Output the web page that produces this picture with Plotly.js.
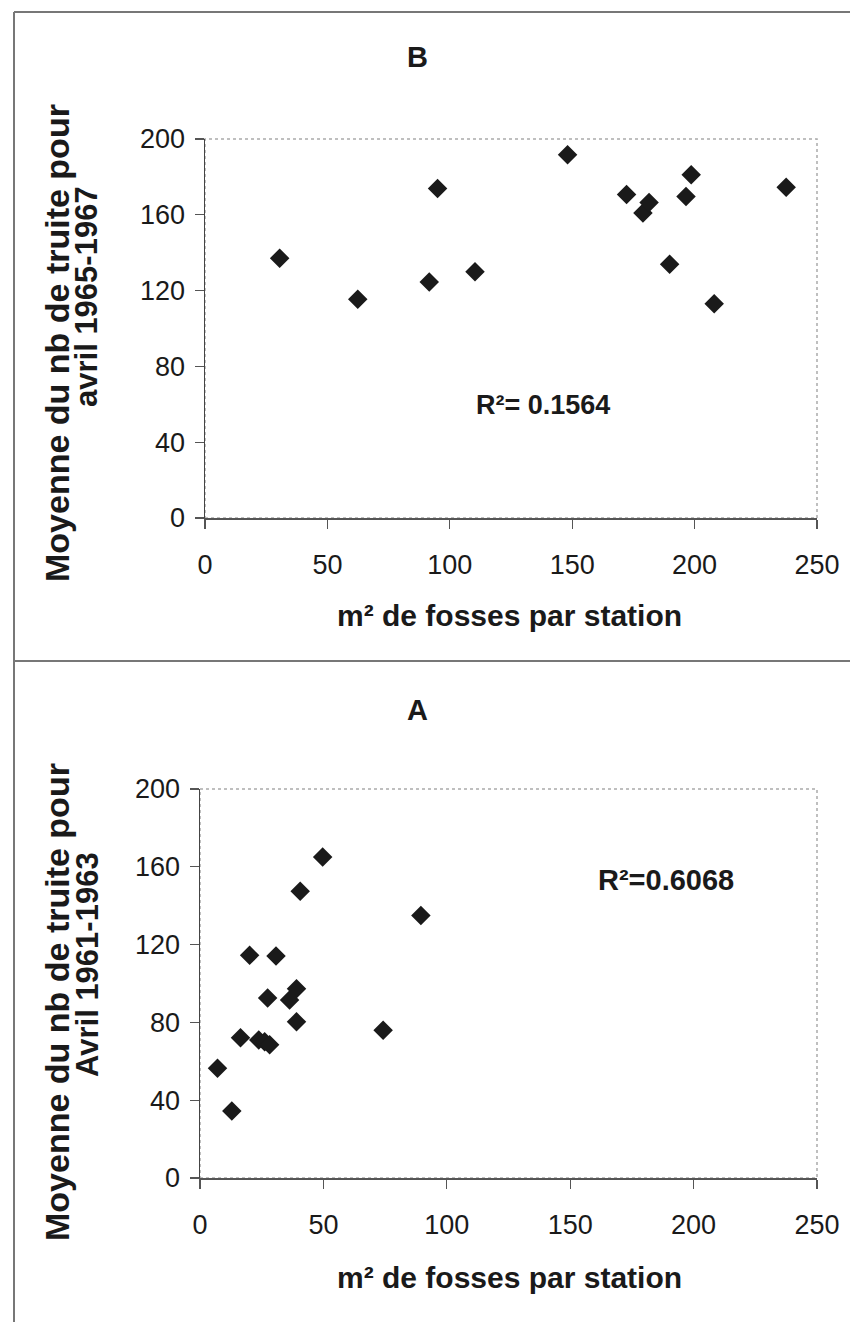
<!DOCTYPE html>
<html>
<head>
<meta charset="utf-8">
<script src="https://cdn.plot.ly/plotly-3.0.1.min.js"></script>
<style>html,body{margin:0;padding:0;background:#fff;}#chart{width:850px;height:1322px;}</style>
</head>
<body>
<div id="chart"></div>
<script>
// Panel B (1965-1967)
const B_x = [30.5, 62.4, 91.6, 95.0, 110.3, 148.1, 172.2, 178.9, 181.4, 189.8, 196.5, 198.6, 208.0, 237.4];
const B_y = [137.1, 115.4, 124.6, 173.9, 129.9, 191.7, 170.7, 160.9, 166.5, 133.9, 169.7, 181.1, 113.0, 174.6];
const B_r2 = "R²= 0.1564";
const B_ytitle = ["Moyenne du nb de truite pour", "avril 1965-1967"];

// Panel A (1961-1963)
const A_x = [7.1, 12.9, 16.4, 20.1, 23.8, 26.2, 28.2, 27.4, 30.8, 36.3, 39.1, 39.1, 40.6, 49.7, 74.2, 89.5];
const A_y = [56.4, 34.5, 72.1, 114.5, 70.9, 70.1, 68.5, 92.6, 114.2, 91.5, 97.3, 80.3, 147.4, 165.1, 75.9, 135.0];
const A_r2 = "R²=0.6068";
const A_ytitle = ["Moyenne du nb de truite pour", "Avril 1961-1963"];

const xTitle = "m² de fosses par station";
const xTicks = [0, 50, 100, 150, 200, 250];
const yTicks = [0, 40, 80, 120, 160, 200];

const W = 850, H = 1322;
const px = v => v / W;
const py = v => 1 - v / H;
const FONT = "Liberation Sans, Arial, sans-serif";
const INK = "#1a1a1a";

const marker = {symbol: "diamond", size: 15, color: INK};
const traces = [
  {x: B_x, y: B_y, type: "scatter", mode: "markers", marker: marker, xaxis: "x", yaxis: "y", showlegend: false, hoverinfo: "x+y"},
  {x: A_x, y: A_y, type: "scatter", mode: "markers", marker: marker, xaxis: "x2", yaxis: "y2", showlegend: false, hoverinfo: "x+y"}
];

function xax(domain, anchor) {
  return {domain: domain, anchor: anchor, range: [0, 250], tickvals: xTicks, ticktext: xTicks.map(String),
    showgrid: false, zeroline: false, showline: true, linecolor: "#555", linewidth: 1.5,
    ticks: "outside", ticklen: 9, tickcolor: "#555", tickwidth: 1.2, ticklabelstandoff: 13,
    tickfont: {family: FONT, size: 27, color: INK}, fixedrange: true};
}
function yax(domain, anchor) {
  return {domain: domain, anchor: anchor, range: [0, 200], tickvals: yTicks, ticktext: yTicks.map(String),
    showgrid: false, zeroline: false, showline: true, linecolor: "#444", linewidth: 1.5,
    ticks: "outside", ticklen: 9, tickcolor: "#555", tickwidth: 1.2, ticklabelstandoff: 4,
    tickfont: {family: FONT, size: 27, color: INK}, fixedrange: true};
}

const bold = (s) => ({family: FONT, size: s, color: INK, weight: "bold"});

const annotations = [
  // panel titles
  {text: "<b>B</b>", xref: "paper", yref: "paper", x: px(417), y: py(57), showarrow: false, font: bold(29), xanchor: "center", yanchor: "middle"},
  {text: "<b>A</b>", xref: "paper", yref: "paper", x: px(417), y: py(710), showarrow: false, font: bold(29), xanchor: "center", yanchor: "middle"},
  // x titles
  {text: "<b>" + xTitle + "</b>", xref: "paper", yref: "paper", x: px(509), y: py(615), showarrow: false, font: bold(30), xanchor: "center", yanchor: "middle"},
  {text: "<b>" + xTitle + "</b>", xref: "paper", yref: "paper", x: px(509), y: py(1277), showarrow: false, font: bold(30), xanchor: "center", yanchor: "middle"},
  // y titles B
  {text: "<b>" + B_ytitle[0] + "</b>", xref: "paper", yref: "paper", x: px(57), y: py(343), textangle: -90, showarrow: false, font: bold(34), xanchor: "center", yanchor: "middle"},
  {text: "<b>" + B_ytitle[1] + "</b>", xref: "paper", yref: "paper", x: px(87), y: py(297), textangle: -90, showarrow: false, font: bold(31), xanchor: "center", yanchor: "middle"},
  // y titles A
  {text: "<b>" + A_ytitle[0] + "</b>", xref: "paper", yref: "paper", x: px(57), y: py(1002), textangle: -90, showarrow: false, font: bold(34), xanchor: "center", yanchor: "middle"},
  {text: "<b>" + A_ytitle[1] + "</b>", xref: "paper", yref: "paper", x: px(87), y: py(965), textangle: -90, showarrow: false, font: bold(31), xanchor: "center", yanchor: "middle"},
  // R² labels
  {text: "<b>" + B_r2 + "</b>", xref: "x", yref: "y", x: 138, y: 59.6, showarrow: false, font: bold(27), xanchor: "center", yanchor: "middle"},
  {text: "<b>" + A_r2 + "</b>", xref: "x2", yref: "y2", x: 189, y: 153, showarrow: false, font: bold(29), xanchor: "center", yanchor: "middle"}
];

const frameColor = "#777";
const shapes = [
  // outer frame and separator
  {type: "line", xref: "paper", yref: "paper", x0: px(14), x1: 1, y0: py(12), y1: py(12), line: {color: frameColor, width: 2}},
  {type: "line", xref: "paper", yref: "paper", x0: px(14), x1: px(14), y0: py(12), y1: 0, line: {color: frameColor, width: 2}},
  {type: "line", xref: "paper", yref: "paper", x0: px(14), x1: 1, y0: py(661), y1: py(661), line: {color: frameColor, width: 2}},
  // plot area borders
  {type: "rect", xref: "x domain", yref: "y domain", x0: 0, x1: 1, y0: 0, y1: 1, layer: "below", line: {color: "#aaa", width: 1.5, dash: "dot"}},
  {type: "rect", xref: "x2 domain", yref: "y2 domain", x0: 0, x1: 1, y0: 0, y1: 1, layer: "below", line: {color: "#aaa", width: 1.5, dash: "dot"}}
];

const layout = {
  width: W, height: H,
  margin: {l: 0, r: 0, t: 0, b: 0},
  paper_bgcolor: "#fff", plot_bgcolor: "#fff",
  font: {family: FONT, color: INK},
  showlegend: false,
  xaxis: xax([px(205), px(817)], "y"),
  yaxis: yax([py(518), py(139)], "x"),
  xaxis2: xax([px(200), px(817)], "y2"),
  yaxis2: yax([py(1178), py(789)], "x2"),
  annotations: annotations,
  shapes: shapes
};

Plotly.newPlot("chart", traces, layout, {staticPlot: true, displayModeBar: false});
</script>
</body>
</html>
